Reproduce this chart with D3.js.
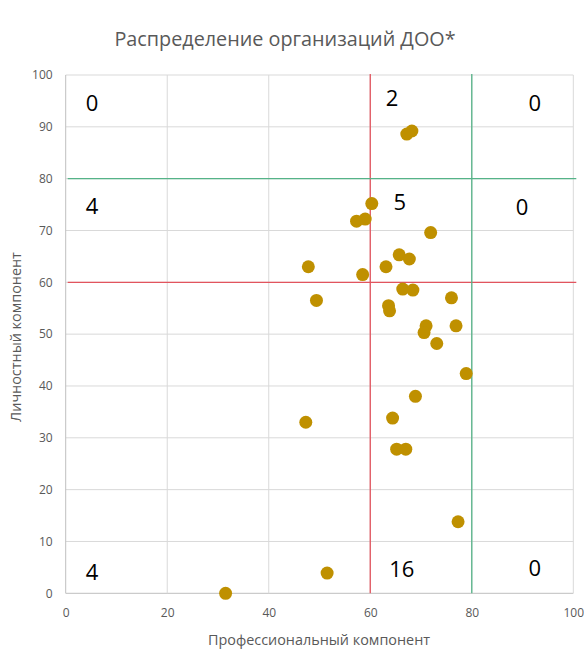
<!DOCTYPE html>
<html>
<head>
<meta charset="utf-8">
<script src="https://cdn.jsdelivr.net/npm/d3@7"></script>
<style>
	body { margin: 0; background: #fff; }
	svg text { font-family: "Open Sans", "Noto Sans", sans-serif; }
</style>
</head>
<body>
<div id="chart"></div>
<script>
// точки: профессиональный (x) и личностный (y) компоненты
var profX = [67.2, 68.2, 60.3, 57.3, 59.0, 71.9, 65.7, 67.7, 47.8, 63.1,
             58.5, 66.4, 68.4, 49.4, 76.0, 63.6, 63.8, 71.0, 70.6, 76.9,
             73.1, 78.9, 68.9, 47.3, 64.4, 65.2, 67.0, 77.3, 51.5, 31.5];
var lichY = [88.6, 89.2, 75.2, 71.8, 72.2, 69.6, 65.3, 64.5, 63.0, 63.0,
             61.5, 58.7, 58.5, 56.5, 57.0, 55.5, 54.5, 51.6, 50.3, 51.6,
             48.2, 42.4, 38.0, 33.0, 33.8, 27.8, 27.8, 13.8, 3.9, 0.0];

// пороговые линии
var thresholds = [60, 80];
var thresholdColors = ["#e2545e", "#55b388"];

// подписи квадрантов (в единицах данных)
var quadCounts = ["0", "2", "0", "4", "5", "0", "4", "16", "0"];
var quadX = [5.2, 64.3, 92.4, 5.2, 65.8, 89.9, 5.2, 66.2, 92.4];
var quadY = [94.6, 95.6, 94.6, 74.7, 75.5, 74.5, 4.1, 4.7, 4.9];

var xTicks = [0, 20, 40, 60, 80, 100];
var yTicks = [0, 10, 20, 30, 40, 50, 60, 70, 80, 90, 100];

var W = 584, H = 653;
var margin = {top: 75, left: 65.7, right: W - 573.3, bottom: H - 593.3};
var iw = W - margin.left - margin.right;
var ih = H - margin.top - margin.bottom;

var svg = d3.select("#chart").append("svg")
	.attr("width", W)
	.attr("height", H);

var x = d3.scaleLinear().domain([0, 100]).range([0, iw]);
var y = d3.scaleLinear().domain([0, 100]).range([ih, 0]);

svg.append("text")
	.attr("x", 285)
	.attr("y", 46)
	.attr("text-anchor", "middle")
	.attr("font-size", 19.8)
	.attr("fill", "#595959")
	.text("Распределение организаций ДОО*");

var g = svg.append("g")
	.attr("transform", "translate(" + margin.left + "," + margin.top + ")");

// сетка
g.append("g").selectAll("line").data(yTicks).enter().append("line")
	.attr("x1", 0).attr("x2", iw)
	.attr("y1", function(d) { return y(d); })
	.attr("y2", function(d) { return y(d); })
	.attr("stroke", function(d) { return d == 0 ? "#bfbfbf" : "#d9d9d9"; })
	.attr("stroke-width", 1);
g.append("g").selectAll("line").data(xTicks).enter().append("line")
	.attr("y1", 0).attr("y2", ih)
	.attr("x1", function(d) { return x(d); })
	.attr("x2", function(d) { return x(d); })
	.attr("stroke", function(d) { return d == 0 ? "#bfbfbf" : "#d9d9d9"; })
	.attr("stroke-width", 1);

// оси (только подписи)
var xAxis = g.append("g")
	.attr("transform", "translate(0," + ih + ")")
	.call(d3.axisBottom(x).tickValues(xTicks).tickSize(0).tickPadding(15));
var yAxis = g.append("g")
	.call(d3.axisLeft(y).tickValues(yTicks).tickSize(0).tickPadding(13));
[xAxis, yAxis].forEach(function(a) {
	a.select(".domain").remove();
	a.selectAll("text")
		.attr("font-size", 12)
		.attr("fill", "#595959")
		.attr("font-family", "\"Open Sans\", sans-serif");
});

// пороговые линии
thresholds.forEach(function(t, i) {
	g.append("line")
		.attr("x1", x(t)).attr("x2", x(t))
		.attr("y1", -1).attr("y2", ih)
		.attr("stroke", thresholdColors[i]).attr("stroke-width", 1.3);
	g.append("line")
		.attr("x1", 2).attr("x2", iw + 3)
		.attr("y1", y(t)).attr("y2", y(t))
		.attr("stroke", thresholdColors[i]).attr("stroke-width", 1.3);
});

// точки
g.append("g").selectAll("circle").data(d3.range(profX.length)).enter().append("circle")
	.attr("cx", function(i) { return x(profX[i]); })
	.attr("cy", function(i) { return y(lichY[i]); })
	.attr("r", 6.5)
	.attr("fill", "#bf9000");

// подписи квадрантов
g.append("g").selectAll("text").data(quadCounts).enter().append("text")
	.attr("x", function(d, i) { return x(quadX[i]); })
	.attr("y", function(d, i) { return y(quadY[i]); })
	.attr("dy", "0.36em")
	.attr("text-anchor", "middle")
	.attr("font-size", 22)
	.attr("fill", "#000")
	.text(function(d) { return d; });

// названия осей
svg.append("text")
	.attr("x", 319)
	.attr("y", 645)
	.attr("text-anchor", "middle")
	.attr("font-size", 14.4)
	.attr("fill", "#595959")
	.text("Профессиональный компонент");
svg.append("text")
	.attr("transform", "translate(21,337) rotate(-90)")
	.attr("text-anchor", "middle")
	.attr("font-size", 14.4)
	.attr("fill", "#595959")
	.text("Личностный компонент");
</script>
</body>
</html>
